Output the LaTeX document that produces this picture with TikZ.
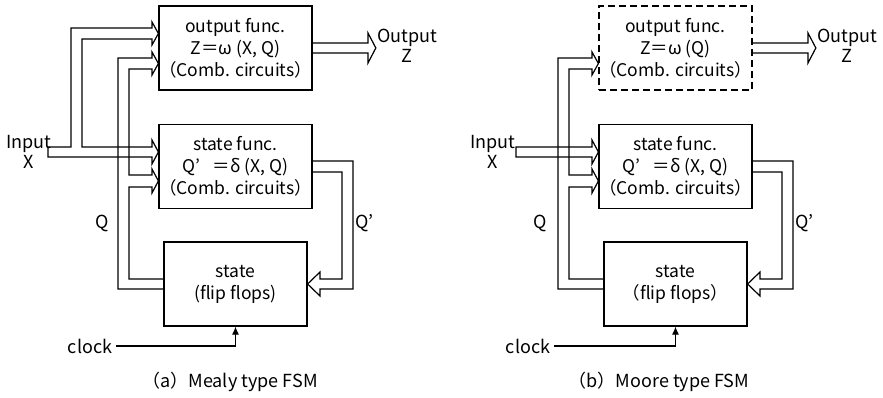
\documentclass[tikz,border=0pt]{standalone}
\usepackage{fontspec}
\setmainfont{Noto Sans CJK JP}
\usetikzlibrary{arrows.meta,positioning,calc}
\tikzset{
  blk/.style={draw,line width=1.2pt,minimum width=143pt,minimum height=84pt,
              inner sep=0pt,align=center,font=\fontsize{17.5}{22}\selectfont},
  dblk/.style={blk,dash pattern=on 7pt off 4pt},
  bus/.style={line width=1.2pt,line join=miter},
  lbl/.style={inner sep=0pt,align=center,font=\fontsize{18}{20}\selectfont},
  clk/.style={-{Latex[length=8pt,width=7pt]},line width=1.2pt},
}

\begin{document}
\begin{tikzpicture}[x=1pt,y=-1pt]
  \useasboundingbox (0,0) rectangle (883,398);

  % (a) Mealy
  \node[blk] (outA) at (235.5,48) {output func.\\Z＝ω (X, Q)\\（Comb. circuits）};
  \node[blk] (nxtA) at (235.5,166.5) {state func.\\Q’\hspace{0.7em}＝δ (X, Q)\\（Comb. circuits）};
  \node[blk] (stA) at (235.5,284) {state\\(flip flops)};

  \node[lbl] (inA) at (29,152) {Input\\X};
  \node[lbl] (zA) at (407,46) {Output\\Z};
  \node[lbl] (qA) at (102,223) {Q};
  \node[lbl,anchor=west] (qpA) at (355,223) {Q’};
  \node[lbl] (clkA) at (90,346) {clock};
  \node[lbl] (capA) at (230,382) {（a）Mealy type FSM};

  \draw[bus] (48,157) -- (48,147) -- (71,147) -- (71,28) -- (152,28) -- (152,22)
    -- ($(outA.west)+(0,-14.5)$) -- (152,45) -- (152,39) -- (82,39) -- (82,147)
    -- (152,147) -- (152,140) -- ($(nxtA.west)+(0,-14.5)$) -- (152,164) -- (152,157) -- cycle;
  \draw[bus] ($(stA.west)+(0,5)$) -- (118,289) -- (118,58) -- (152,58) -- (152,52)
    -- ($(outA.west)+(0,15.5)$) -- (152,75) -- (152,69) -- (129,69) -- (129,175)
    -- (152,175) -- (152,169) -- ($(nxtA.west)+(0,14.5)$) -- (152,193) -- (152,187)
    -- (129,187) -- (129,279) -- ($(stA.west)+(0,-5)$);
  \draw[bus] ($(nxtA.east)+(0,-5.5)$) -- (353,161) -- (353,289) -- (320,289) -- (320,296)
    -- (stA.east) -- (320,272) -- (320,279) -- (342,279) -- (342,172) -- ($(nxtA.east)+(0,5.5)$);
  \draw[bus] ($(outA.east)+(0,-5)$) -- (368,43) -- (368,33) -- ([xshift=-1pt]zA.west |- outA.east)
    -- (368,63) -- (368,53) -- ($(outA.east)+(0,5)$);
  \draw[clk] ([xshift=4pt]clkA.east) -| (stA.south);

  % (b) Moore
  \begin{scope}[xshift=440pt]
  \node[dblk] (outB) at (235.5,48) {output func.\\Z＝ω (Q)\\（Comb. circuits）};
  \node[blk] (nxtB) at (235.5,166.5) {state func.\\Q’\hspace{0.7em}＝δ (X, Q)\\（Comb. circuits）};
  \node[blk] (stB) at (235.5,284) {state\\（flip flops）};

  \node[lbl] (inB) at (53,152) {Input\\X};
  \node[lbl] (zB) at (407,46) {Output\\Z};
  \node[lbl] (qB) at (100,223) {Q};
  \node[lbl,anchor=west] (qpB) at (355,223) {Q’};
  \node[lbl] (clkB) at (88,346) {clock};
  \node[lbl] (capB) at (219,382) {（b）Moore type FSM};

  \draw[bus] (76,157) -- (76,147) -- (152,147) -- (152,140) -- ($(nxtB.west)+(0,-14.5)$)
    -- (152,164) -- (152,157) -- cycle;
  \draw[bus] ($(stB.west)+(0,5)$) -- (118,289) -- (118,58) -- (152,58) -- (152,52)
    -- ($(outB.west)+(0,15.5)$) -- (152,75) -- (152,69) -- (129,69) -- (129,175)
    -- (152,175) -- (152,169) -- ($(nxtB.west)+(0,14.5)$) -- (152,193) -- (152,187)
    -- (129,187) -- (129,279) -- ($(stB.west)+(0,-5)$);
  \draw[bus] ($(nxtB.east)+(0,-5.5)$) -- (353,161) -- (353,289) -- (320,289) -- (320,296)
    -- (stB.east) -- (320,272) -- (320,279) -- (342,279) -- (342,172) -- ($(nxtB.east)+(0,5.5)$);
  \draw[bus] ($(outB.east)+(0,-5)$) -- (368,43) -- (368,33) -- ([xshift=-1pt]zB.west |- outB.east)
    -- (368,63) -- (368,53) -- ($(outB.east)+(0,5)$);
  \draw[clk] ([xshift=4pt]clkB.east) -| (stB.south);
  \end{scope}
\end{tikzpicture}
\end{document}
